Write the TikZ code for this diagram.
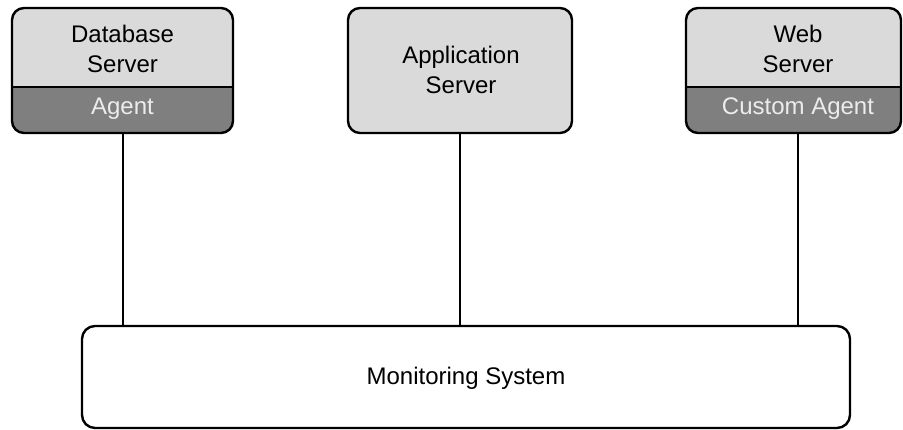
\documentclass[tikz,border=0pt]{standalone}
\usepackage{fontspec}
\setmainfont{Liberation Sans}
\definecolor{topgray}{HTML}{DADADA}
\definecolor{agentgray}{HTML}{7F7F7F}
\definecolor{agenttext}{HTML}{ECECEC}
\begin{document}
\begin{tikzpicture}[x=1pt,y=-1pt,
  srvbox/.style={rectangle, fill=topgray, rounded corners=12pt, minimum height=125pt, inner sep=0pt, outer sep=0pt},
  frame/.style={draw=black, line width=2.4pt, rounded corners=12pt},
  divider/.style={draw=black, line width=2.4pt},
  lbl/.style={font=\fontsize{24}{30}\selectfont, align=center, text=black, inner sep=0pt},
  agentlbl/.style={lbl, text=agenttext},
  conn/.style={draw=black, line width=2pt},
  monbox/.style={rectangle, draw=black, fill=white, line width=2.4pt, rounded corners=13pt,
    minimum width=768pt, minimum height=102pt, inner sep=0pt, outer sep=0pt}
]
\useasboundingbox (0,0) rectangle (903,430);

% Monitoring system
\node[monbox] (mon) at (466,377) {};
\node[lbl] (mont) at (466,378) {Monitoring System};

% Database server
\node[srvbox, minimum width=221pt] (db) at (122.5,70.5) {};
\begin{scope}
  \clip[rounded corners=12pt] (db.south west) rectangle (db.north east);
  \fill[agentgray] (db.west |- 0,87) rectangle (db.south east);
\end{scope}
\draw[divider] (db.west |- 0,87) -- (db.east |- 0,87);
\draw[frame] (db.south west) rectangle (db.north east);
\node[lbl] (dbt) at (122.5,49) {Database\\Server};
\node[agentlbl] (dba) at (122.5,109) {Agent};

% Application server
\node[srvbox, minimum width=224pt] (app) at (460,70.5) {};
\draw[frame] (app.south west) rectangle (app.north east);
\node[lbl] (appt) at (461,70) {Application\\Server};

% Web server
\node[srvbox, minimum width=215pt] (web) at (793.5,70.5) {};
\begin{scope}
  \clip[rounded corners=12pt] (web.south west) rectangle (web.north east);
  \fill[agentgray] (web.west |- 0,87) rectangle (web.south east);
\end{scope}
\draw[divider] (web.west |- 0,87) -- (web.east |- 0,87);
\draw[frame] (web.south west) rectangle (web.north east);
\node[lbl] (webt) at (798,49) {Web\\Server};
\node[agentlbl] (weba) at (798,109) {Custom Agent};

% Connectors
\draw[conn] (db.south) -- (mon.north -| db.south);
\draw[conn] (app.south) -- (mon.north -| app.south);
\draw[conn] (weba.south |- web.south) -- (weba.south |- mon.north);
\end{tikzpicture}
\end{document}
